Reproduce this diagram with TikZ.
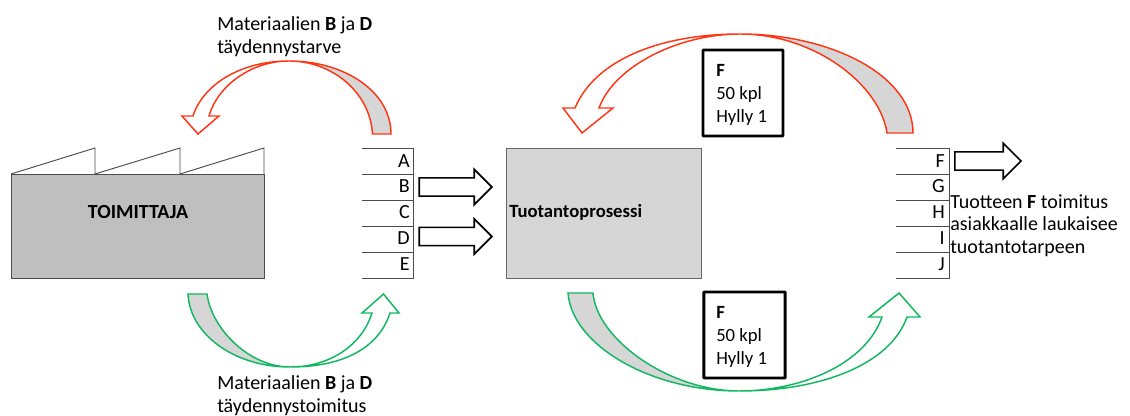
\documentclass[tikz,border=0pt]{standalone}
\usepackage{fontspec}
\setmainfont{Carlito}
\usetikzlibrary{shapes.arrows}
\definecolor{loopred}{HTML}{FF3514}
\definecolor{loopgreen}{HTML}{10B860}
\definecolor{tailgray}{HTML}{D6D6D6}
\begin{document}
\begin{tikzpicture}[x=0.75pt, y=-0.75pt,
    every node/.style={font=\fontsize{15}{17}\selectfont},
    red style/.style={draw=loopred, line width=1.1pt, line join=miter},
    green style/.style={draw=loopgreen, line width=1.1pt, line join=miter},
    table style/.style={draw=black!70, line width=0.7pt},
    row style/.style={anchor=east, inner sep=0pt},
    block style/.style={single arrow, draw=black, line width=1.2pt, fill=white, inner sep=0pt,
        inner ysep=6.2pt, single arrow head extend=6.4pt, anchor=tip},
    stock style/.style={draw=black, line width=2.2pt, fill=white, rounded corners=0.5pt},
    stock text/.style={anchor=west, align=left, inner sep=0pt, font=\fontsize{14}{17}\selectfont},
    label style/.style={anchor=west, align=left, inner sep=0pt}]
    \useasboundingbox (0,0) rectangle (1130,416);

    % supplier
    \draw[table style, fill=white] (11,174) -- (95,148) -- (95,174) -- (180,148) -- (180,174) -- (264,148) -- (264,174);
    \node[draw=black!70, line width=0.8pt, fill=black!25, minimum width=190pt, minimum height=78pt, inner sep=0pt, anchor=north west] (supplier) at (11,174) {};
    \node[inner sep=0pt] (supplier label) at (138,212) {\textbf{TOIMITTAJA}};

    % process
    \node[draw=black!60, line width=0.8pt, fill=tailgray, minimum width=146pt, minimum height=97.5pt, inner sep=0pt, anchor=north west] (process) at (506,148) {};
    \node[label style, font=\fontsize{14}{17}\selectfont] (process label) at (509,212) {\textbf{Tuotantoprosessi}};

    % left table
    \draw[table style] (362,148) -- (413.5,148) -- (413.5,278) -- (362,278);
    \draw[table style] (362,174) -- (413.5,174);
    \draw[table style] (362,200) -- (413.5,200);
    \draw[table style] (362,226) -- (413.5,226);
    \draw[table style] (362,252) -- (413.5,252);
    \node[row style] (A) at (410,161) {A};
    \node[row style] (B) at (410,186) {B};
    \node[row style] (C) at (410,212) {C};
    \node[row style] (D) at (410,238) {D};
    \node[row style] (E) at (410,264) {E};

    % right table
    \draw[table style] (896,148) -- (949,148) -- (949,278) -- (896,278);
    \draw[table style] (896,174) -- (949,174);
    \draw[table style] (896,200) -- (949,200);
    \draw[table style] (896,226) -- (949,226);
    \draw[table style] (896,252) -- (949,252);
    \node[row style] (F) at (945,161) {F};
    \node[row style] (G) at (945,186) {G};
    \node[row style] (H) at (945,212) {H};
    \node[row style] (I) at (945,238) {I};
    \node[row style] (J) at (945,264) {J};

    \node[block style, minimum height=54.5pt] (arrowB) at (493,187) {};
    \node[block style, minimum height=54.5pt] (arrowD) at (493,236.5) {};
    \node[block style, minimum height=49.5pt] (arrowF) at (1022,161) {};

    % red loops
    \draw[style=red style, fill=tailgray] (391,134) .. controls (391,92) and (345,61) .. (289,61)
        .. controls (332,61) and (370,92) .. (372.5,134) -- cycle;
    \draw[style=red style, fill=white] (289,61) .. controls (240,61) and (203,85) .. (193,116)
        -- (182,116) -- (198,134) -- (219,116) -- (209,116) .. controls (218,85) and (252,61) .. (289,61) -- cycle;
    \draw[style=red style, fill=tailgray] (913,133) .. controls (913,75) and (830,34) .. (740,34)
        .. controls (815,34) and (880,85) .. (887,133) -- cycle;
    \draw[style=red style, fill=white] (740,34) .. controls (660,34) and (595,60) .. (575,108)
        -- (563,108) -- (582,133) -- (613,108) -- (599,108) .. controls (615,65) and (680,34) .. (740,34) -- cycle;

    % green loops
    \draw[style=green style, fill=tailgray] (188,294) .. controls (190,335) and (235,367) .. (290,367)
        .. controls (250,367) and (212,330) .. (207,294) -- cycle;
    \draw[style=green style, fill=white] (290,367) .. controls (340,367) and (378,350) .. (390,313)
        -- (399,313) -- (383.5,294) -- (362,313) -- (372,313) .. controls (362,345) and (330,367) .. (290,367) -- cycle;
    \draw[style=green style, fill=tailgray] (568,293) .. controls (572,345) and (650,391) .. (739,391)
        .. controls (670,391) and (597,340) .. (593,293) -- cycle;
    \draw[style=green style, fill=white] (739,391) .. controls (820,391) and (890,365) .. (907,317)
        -- (920,317) -- (899,293) -- (869,317) -- (882,317) .. controls (865,365) and (800,391) .. (739,391) -- cycle;

    % stock boxes
    \node[style=stock style, minimum width=60pt, minimum height=64.5pt, inner sep=0pt] (stock top) at (743,93) {};
    \node[style=stock style, minimum width=61pt, minimum height=64.5pt, inner sep=0pt] (stock bottom) at (744.5,335) {};
    \node[style=stock text] (stock top label) at (716,95) {\textbf{F}\\50 kpl\\Hylly 1};
    \node[style=stock text] (stock bottom label) at (716,337) {\textbf{F}\\50 kpl\\Hylly 1};

    % texts
    \node[label style] (need label) at (217,36.5) {Materiaalien \textbf{B} ja \textbf{D}\\täydennystarve};
    \node[label style] (delivery label) at (217,395.5) {Materiaalien \textbf{B} ja \textbf{D}\\täydennystoimitus};
    \node[label style] (customer label) at (950,225.5) {Tuotteen \textbf{F} toimitus\\asiakkaalle laukaisee\\tuotantotarpeen};
\end{tikzpicture}
\end{document}
